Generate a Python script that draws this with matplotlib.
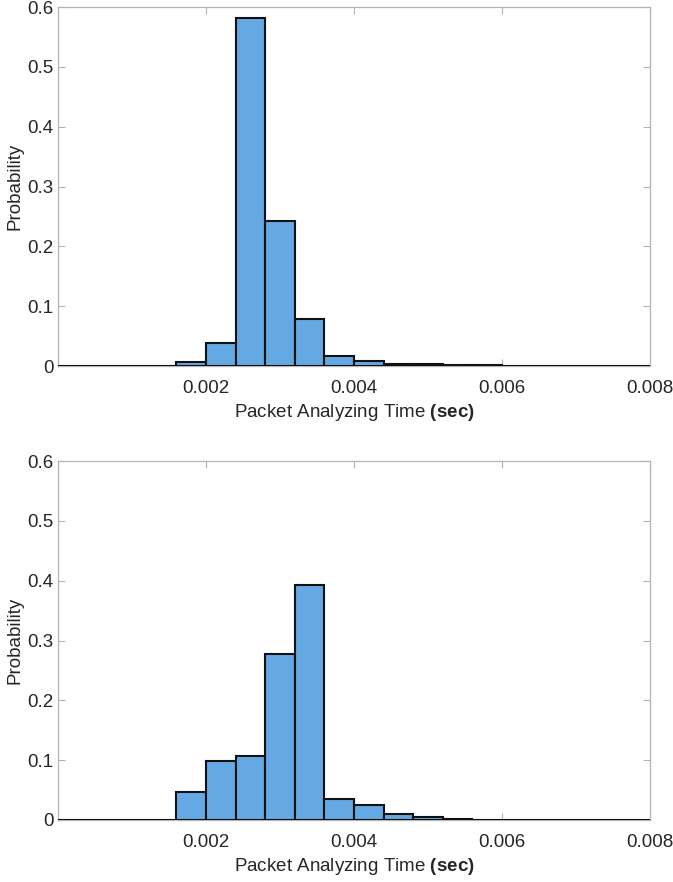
import numpy as np
import matplotlib
import matplotlib.pyplot as plt

matplotlib.use("Agg")

# histogram bins: 20 bins of 0.4 ms from 0 to 8 ms
bin_start = 0.0
bin_width = 0.0004

prob_top = [0, 0, 0, 0, 0.006, 0.039, 0.581, 0.243, 0.079, 0.017,
            0.009, 0.004, 0.003, 0.002, 0.001, 0.0005, 0.0002, 0.0002, 0.0005, 0.0002]
prob_bottom = [0, 0, 0, 0, 0.046, 0.099, 0.107, 0.277, 0.393, 0.035,
               0.025, 0.010, 0.0045, 0.0015, 0.0005, 0, 0, 0, 0, 0]

x_ticks = [0.002, 0.004, 0.006, 0.008]
x_ticklabels = ['0.002', '0.004', '0.006', '0.008']
y_ticks = [0, 0.1, 0.2, 0.3, 0.4, 0.5, 0.6]
y_ticklabels = ['0', '0.1', '0.2', '0.3', '0.4', '0.5', '0.6']

plt.rcParams['font.family'] = ['Liberation Sans', 'DejaVu Sans']
plt.rcParams['mathtext.fontset'] = 'custom'
plt.rcParams['mathtext.rm'] = 'Liberation Sans'
plt.rcParams['mathtext.bf'] = 'Liberation Sans:bold'

bar_color = '#64a9e3'
spine_color = '#b4b4b4'
text_color = '#262626'
fs = 13.5


def draw_hist(ax, probs):
    edges = bin_start + bin_width * np.arange(len(probs))
    ax.bar(edges, probs, width=bin_width, align='edge', color=bar_color,
           edgecolor='#111111', linewidth=1.5, zorder=3)
    ax.set_xlim(0, 0.008)
    ax.set_ylim(0, 0.6)
    ax.set_xticks(x_ticks)
    ax.set_xticklabels(x_ticklabels)
    ax.set_yticks(y_ticks)
    ax.set_yticklabels(y_ticklabels)
    ax.tick_params(direction='in', length=5, width=0.8, color=spine_color,
                   labelcolor=text_color, labelsize=fs, top=True, right=True)
    ax.tick_params(axis='x', pad=10)
    ax.tick_params(axis='y', pad=3)
    for s in ax.spines.values():
        s.set_color(spine_color)
        s.set_linewidth(0.9)
    ax.set_xlabel(r'Packet Analyzing Time $\mathbf{(sec)}$', fontsize=fs,
                  color=text_color, labelpad=4)
    ax.set_ylabel('Probability', fontsize=fs, color=text_color, labelpad=3)


fig = plt.figure(figsize=(6.73, 8.82), dpi=100)
ax1 = fig.add_axes([0.0862, 0.585, 0.8796, 0.407])
ax2 = fig.add_axes([0.0862, 0.0703, 0.8796, 0.407])

draw_hist(ax1, prob_top)
draw_hist(ax2, prob_bottom)

fig.savefig('out.png', dpi=100)
